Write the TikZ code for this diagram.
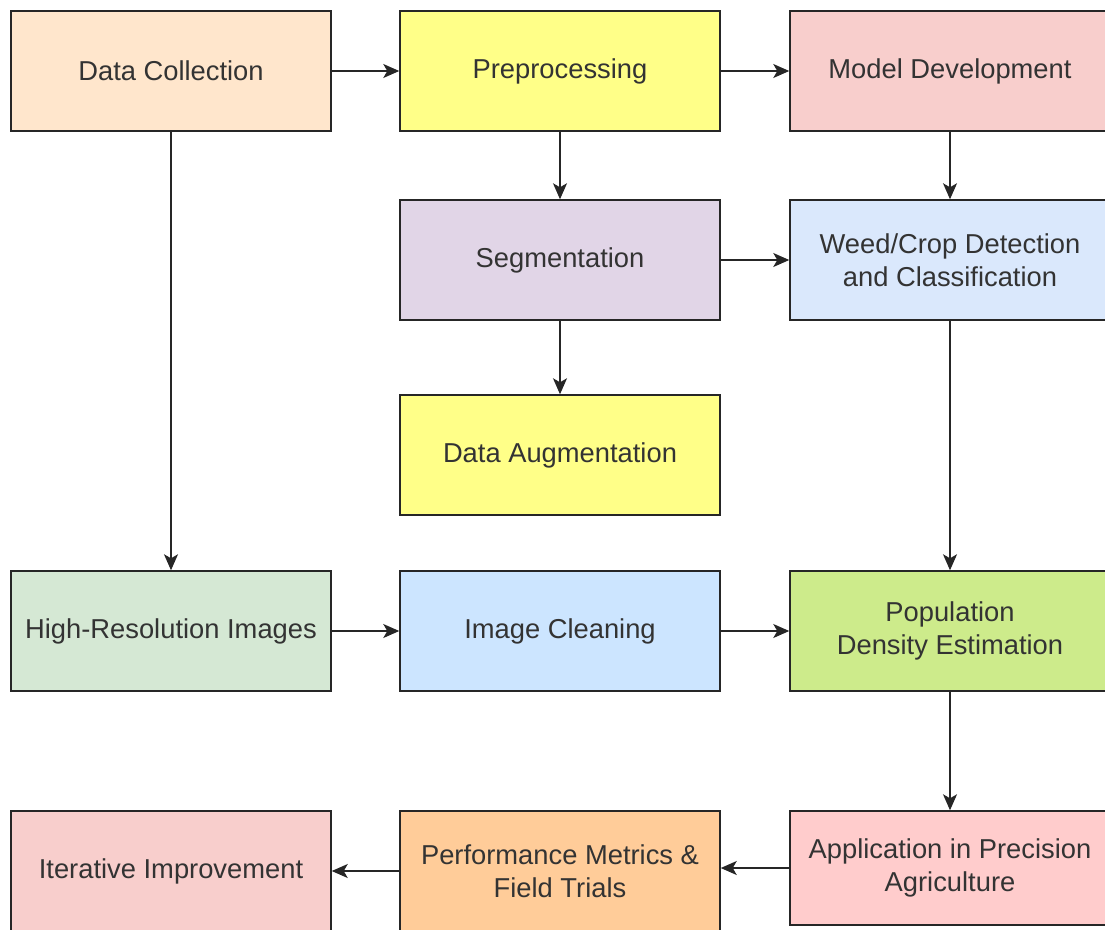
\documentclass[tikz,border=0pt]{standalone}
\usepackage{fontspec}
\setmainfont{Liberation Sans}
\usetikzlibrary{arrows.meta}

\definecolor{peach}{HTML}{FFE6CC}
\definecolor{gelb}{HTML}{FFFF88}
\definecolor{rosa}{HTML}{F8CECC}
\definecolor{lila}{HTML}{E1D5E7}
\definecolor{hellblau}{HTML}{DAE8FC}
\definecolor{blau}{HTML}{CCE5FF}
\definecolor{gruen}{HTML}{D5E8D4}
\definecolor{limette}{HTML}{CDEB8B}
\definecolor{orange}{HTML}{FFCC99}
\definecolor{rot}{HTML}{FFCCCC}
\definecolor{schrift}{HTML}{333333}

\begin{document}
\begin{tikzpicture}[x=0.75pt, y=-0.75pt,
			kasten/.style={draw=black!85, line width=1.1pt, minimum width=240pt, minimum height=90pt,
				align=center, text=schrift, font=\fontsize{20.5}{25}\selectfont},
			pfeil/.style={draw=black!85, line width=1.1pt, -{Stealth[length=12pt, width=10.5pt, inset=3pt]}}]
			\clip (0,0) rectangle (1105,929);

			% Obere Reihe
			\node[kasten, fill=peach] (DC) at (171,71) {Data Collection};
			\node[kasten, fill=gelb] (PR) at (560,71) {Preprocessing};
			\node[kasten, fill=rosa] (MD) at (950,71) {Model Development};

			% Zweite Reihe
			\node[kasten, fill=lila] (SG) at (560,260) {Segmentation};
			\node[kasten, fill=hellblau] (WC) at (950,260) {Weed/Crop Detection\\and Classification};

			% Dritte Reihe
			\node[kasten, fill=gelb] (DA) at (560,455) {Data Augmentation};

			% Vierte Reihe
			\node[kasten, fill=gruen] (HR) at (171,631) {High-Resolution Images};
			\node[kasten, fill=blau] (IC) at (560,631) {Image Cleaning};
			\node[kasten, fill=limette] (PD) at (950,631) {Population\\Density Estimation};

			% Untere Reihe
			\node[kasten, fill=rosa] (II) at (171,871) {Iterative Improvement};
			\node[kasten, fill=orange] (PM) at (560,871) {Performance Metrics \&\\Field Trials};
			\node[kasten, fill=rot, minimum height=85.5pt] (AP) at (950,868) {Application in Precision\\Agriculture};

			% Pfeile
			\draw[pfeil] (DC) -- (PR);
			\draw[pfeil] (PR) -- (MD);
			\draw[pfeil] (PR) -- (SG);
			\draw[pfeil] (MD) -- (WC);
			\draw[pfeil] (SG) -- (WC);
			\draw[pfeil] (SG) -- (DA);
			\draw[pfeil] (DC) -- (HR);
			\draw[pfeil] (WC) -- (PD);
			\draw[pfeil] (HR) -- (IC);
			\draw[pfeil] (IC) -- (PD);
			\draw[pfeil] (PD) -- (AP);
			\draw[pfeil] (AP.west) -- (AP.west -| PM.east);
			\draw[pfeil] (PM.west |- II.east) -- (II.east);

		\end{tikzpicture}
\end{document}
